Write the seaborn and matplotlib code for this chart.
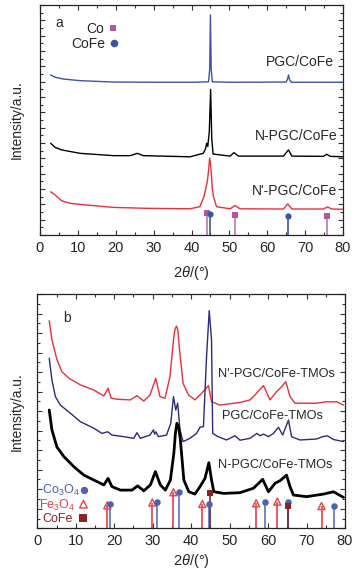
import numpy as np
import matplotlib
matplotlib.use('Agg')
import matplotlib.pyplot as plt
import matplotlib.ticker as mticker
import seaborn as sns

# %% Datos (intensidad en unidades arbitrarias, 0-100)

# Panel a
a_pgc_x = [2.8, 4.0, 6.2, 10.6, 19.4, 32.6, 40.0, 44.5, 44.8, 45.0, 45.2, 45.5, 50.0, 65.0, 65.4, 65.6, 65.9, 66.3, 80.0]
a_pgc_y = [69.6, 68.6, 67.8, 67.1, 66.5, 66.4, 66.4, 66.6, 72.0, 95.7, 72.0, 66.6, 66.4, 66.5, 68.0, 69.6, 67.5, 66.4, 66.4]

a_npgc_x = [2.8, 4.0, 5.7, 10.6, 19.4, 23.8, 25.7, 27.3, 39.6, 43.1, 43.7, 44.0, 44.3, 44.7, 45.05, 45.35, 45.7, 50.2,
            51.2, 52.4, 64.3, 65.6, 66.5, 74.8, 75.7, 76.6, 80.0]
a_npgc_y = [39.9, 38.1, 37.0, 35.5, 34.5, 34.5, 35.5, 34.5, 34.0, 35.5, 37.5, 39.9, 38.5, 45.0, 63.3, 42.0, 35.2, 34.3,
            35.8, 34.3, 34.3, 37.0, 34.3, 34.2, 35.1, 34.2, 34.0]

a_n2pgc_x = [2.8, 4.0, 5.7, 7.9, 10.6, 19.4, 28.2, 39.6, 42.2, 43.3, 44.0, 44.2, 44.5, 44.8, 45.1, 45.5, 45.8, 46.6, 50.2,
             51.5, 52.8, 64.3, 65.4, 66.5, 74.8, 75.9, 77.0, 80.0]
a_n2pgc_y = [18.8, 17.4, 14.9, 13.8, 13.3, 12.0, 11.6, 11.4, 12.3, 16.7, 22.0, 23.5, 28.0, 33.5, 30.0, 20.0, 16.7, 12.3, 11.4,
             12.8, 11.4, 11.3, 13.5, 11.3, 11.3, 12.2, 11.3, 11.2]

# Picos de referencia, panel a
ref_a_co_x = [44.2, 51.5, 75.9]
ref_a_co_y = [9.4, 8.5, 8.3]
ref_a_cofe_x = [45.0, 65.6]
ref_a_cofe_y = [9.2, 8.3]

# Panel b
b_n2pgc_x = [3.1, 3.8, 5.1, 6.4, 8.2, 11.2, 14.7, 17.3, 18.4, 19.2, 20.7, 24.2, 25.9, 27.7, 29.3, 30.8, 31.9, 33.2,
             34.5, 35.4, 35.8, 36.2, 36.55, 36.9, 37.9, 39.3, 41.0, 42.7, 44.5, 45.3, 47.5, 52.7, 55.3, 56.2, 58.8,
             60.5, 62.2, 63.5, 64.6, 65.7, 67.0, 72.6, 75.2, 77.8, 79.6]
b_n2pgc_y = [88.6, 80.5, 72.0, 66.8, 64.1, 61.2, 59.0, 56.5, 59.8, 55.5, 55.1, 54.8, 56.6, 54.3, 56.9, 64.0, 56.2, 55.5,
             64.7, 80.4, 85.0, 86.3, 84.5, 77.5, 61.9, 56.9, 54.8, 57.6, 60.9, 54.0, 52.6, 53.7, 54.8, 56.2, 60.9,
             54.8, 58.3, 60.4, 62.6, 56.2, 53.4, 53.4, 54.0, 54.0, 52.6]

b_pgc_x = [3.1, 3.8, 4.7, 6.0, 8.6, 11.2, 14.7, 16.8, 18.3, 19.4, 22.5, 25.1, 25.9, 26.8, 29.3, 30.2, 30.5, 30.8, 31.5,
           33.6, 34.7, 35.4, 36.0, 36.5, 37.1, 37.9, 39.7, 41.4, 42.3, 43.2, 44.0, 44.7, 45.3, 45.6, 47.0, 49.2,
           51.4, 52.7, 55.3, 57.1, 57.9, 58.8, 60.1, 61.4, 62.7, 63.8, 65.3, 66.1, 68.3, 72.6, 74.0, 75.4, 77.0, 79.6]
b_pgc_y = [72.6, 63.3, 56.2, 52.6, 49.1, 45.5, 42.7, 40.5, 41.2, 39.8, 39.1, 38.4, 40.8, 38.4, 39.8, 42.0, 40.2, 41.2, 39.1,
           39.8, 44.8, 56.2, 50.5, 53.4, 42.0, 37.0, 38.4, 40.5, 43.1, 43.4, 73.2, 92.9, 80.4, 40.5, 39.1, 37.7,
           39.5, 37.6, 38.4, 40.5, 39.5, 40.2, 39.1, 40.5, 43.1, 39.8, 46.2, 39.1, 37.7, 38.1, 39.0, 39.5, 37.9, 37.0]

b_npgc_x = [3.1, 3.8, 5.1, 6.9, 9.5, 12.1, 14.7, 17.3, 18.4, 19.4, 21.6, 24.6, 26.1, 27.7, 29.4, 30.7, 32.0, 33.3, 34.6,
            35.5, 35.9, 36.3, 36.8, 37.2, 38.1, 39.4, 41.0, 42.3, 43.6, 44.6, 45.3, 45.9, 48.4, 52.7, 56.2, 58.6,
            60.1, 61.8, 63.1, 64.8, 65.7, 66.6, 70.0, 74.4, 77.0, 79.6]
b_npgc_y = [50.5, 42.0, 34.7, 30.6, 26.3, 22.7, 20.6, 18.5, 21.3, 17.8, 16.3, 16.3, 18.1, 16.0, 18.5, 24.2, 18.5, 16.3, 20.6,
            32.0, 40.5, 44.8, 42.7, 37.7, 20.6, 15.6, 14.6, 17.8, 21.3, 28.0, 20.6, 15.6, 14.9, 15.2, 17.1, 20.9,
            15.6, 19.2, 20.3, 22.7, 17.8, 14.2, 13.5, 14.6, 15.6, 13.2]

# Picos de referencia, panel b
ref_b_co3o4_x = [19.0, 31.2, 36.8, 44.7, 59.3, 65.1, 77.2]
ref_b_co3o4_y = [10.2, 11.1, 15.4, 10.4, 11.1, 11.4, 9.6]
ref_b_fe3o4_x = [18.2, 29.9, 35.4, 42.9, 56.9, 62.4, 73.9]
ref_b_fe3o4_y = [9.8, 11.0, 15.4, 10.4, 10.7, 11.4, 9.5]
ref_b_cofe_x = [44.9, 65.3]
ref_b_cofe_y = [15.2, 9.6]

# %% Estilo

sns.set_theme(style='ticks')
plt.rcParams['font.family'] = ['Liberation Sans', 'DejaVu Sans']
plt.rcParams['mathtext.fontset'] = 'custom'
plt.rcParams['mathtext.rm'] = 'Liberation Sans'
plt.rcParams['mathtext.it'] = 'Liberation Sans:italic'

AZUL = '#3b55a3'
NEGRO = '#000000'
ROJO = '#e8303a'
MAGENTA = '#b5579f'
NAVY = '#2b2b7c'
AZUL_B = '#4a62b0'
ROJO_B = '#e8404a'
BORDO = '#8b2323'


def formato_ejes(ax, paso_y, pad_x):
    ax.set_xlim(0, 80)
    ax.set_ylim(0, 100)
    ax.xaxis.set_major_locator(mticker.MultipleLocator(10))
    ax.xaxis.set_minor_locator(mticker.MultipleLocator(5))
    ax.yaxis.set_major_locator(mticker.MultipleLocator(paso_y))
    ax.yaxis.set_minor_locator(mticker.MultipleLocator(paso_y / 2))
    ax.tick_params(which='both', direction='in', top=True, right=True, width=0.8, color='#333333')
    ax.tick_params(which='major', length=3.5, labelsize=10.5, pad=4)
    ax.tick_params(which='minor', length=2)
    ax.tick_params(axis='y', labelleft=False)
    for s in ax.spines.values():
        s.set_linewidth(0.9)
        s.set_color('#222222')
    ax.set_xlabel(r'2$\theta$/(°)', fontsize=10.5, labelpad=pad_x)
    ax.set_ylabel('Intensity/a.u.', fontsize=10)


def picos(ax, xs, ys, color_linea, color_marca, marca, tam, relleno=True):
    ax.vlines(xs, 0, ys, colors=color_linea, linewidth=1.2)
    sns.scatterplot(x=xs, y=ys, ax=ax, marker=marca, s=tam,
                    color=color_marca if relleno else 'none',
                    edgecolor=color_marca,
                    linewidth=1.0 if not relleno else 0, zorder=3, legend=False)


fig = plt.figure(figsize=(3.61, 5.72), dpi=100)
ax_a = fig.add_axes([40 / 361, 337 / 572, 303 / 361, 230 / 572])
ax_b = fig.add_axes([37.3 / 361, 43.7 / 572, 307.7 / 361, 234.3 / 572])

# %% Panel a
sns.lineplot(x=a_pgc_x, y=a_pgc_y, ax=ax_a, color=AZUL, linewidth=1.0, estimator=None)
sns.lineplot(x=a_npgc_x, y=a_npgc_y, ax=ax_a, color=NEGRO, linewidth=1.0, estimator=None)
sns.lineplot(x=a_n2pgc_x, y=a_n2pgc_y, ax=ax_a, color=ROJO, linewidth=1.0, estimator=None)

picos(ax_a, ref_a_co_x, ref_a_co_y, '#b77aae', MAGENTA, 's', 16)
picos(ax_a, ref_a_cofe_x, ref_a_cofe_y, AZUL, AZUL, 'o', 20)

formato_ejes(ax_a, 100 / 15, 7)
ax_a.yaxis.set_label_coords(-0.053, 0.5)

ax_a.text(0.05, 0.92, 'a', transform=ax_a.transAxes, fontsize=10, ha='left', va='center')
ax_a.text(0.212, 0.895, 'Co', transform=ax_a.transAxes, fontsize=10, ha='right', va='center')
ax_a.text(0.214, 0.83, 'CoFe', transform=ax_a.transAxes, fontsize=10, ha='right', va='center')
ax_a.scatter([0.24], [0.898], transform=ax_a.transAxes, marker='s', s=24, color=MAGENTA, linewidths=0)
ax_a.scatter([0.244], [0.835], transform=ax_a.transAxes, marker='o', s=30, color=AZUL, linewidths=0)

ax_a.text(0.97, 0.75, 'PGC/CoFe', transform=ax_a.transAxes, fontsize=10, ha='right', va='center')
ax_a.text(0.983, 0.43, 'N-PGC/CoFe', transform=ax_a.transAxes, fontsize=10, ha='right', va='center')
ax_a.text(0.98, 0.193, "N'-PGC/CoFe", transform=ax_a.transAxes, fontsize=10, ha='right', va='center')

# %% Panel b
sns.lineplot(x=b_n2pgc_x, y=b_n2pgc_y, ax=ax_b, color=ROJO, linewidth=1.0, estimator=None)
sns.lineplot(x=b_pgc_x, y=b_pgc_y, ax=ax_b, color=NAVY, linewidth=1.0, estimator=None)
sns.lineplot(x=b_npgc_x, y=b_npgc_y, ax=ax_b, color=NEGRO, linewidth=2.0, estimator=None)

picos(ax_b, ref_b_fe3o4_x, ref_b_fe3o4_y, ROJO_B, ROJO_B, '^', 26, relleno=False)
picos(ax_b, ref_b_co3o4_x, ref_b_co3o4_y, '#5a74bf', AZUL_B, 'o', 22)
picos(ax_b, ref_b_cofe_x, ref_b_cofe_y, '#6e2b2b', BORDO, 's', 20)

formato_ejes(ax_b, 100 / 12, 3)
ax_b.yaxis.set_label_coords(-0.043, 0.5)

ax_b.text(0.095, 0.896, 'b', transform=ax_b.transAxes, fontsize=10, ha='center', va='center')
ax_b.text(0.139, 0.16, r'Co$_3$O$_4$', transform=ax_b.transAxes, fontsize=9, ha='right', va='center', color=AZUL_B)
ax_b.text(0.1225, 0.099, r'Fe$_3$O$_4$', transform=ax_b.transAxes, fontsize=9, ha='right', va='center', color=ROJO_B)
ax_b.text(0.116, 0.04, 'CoFe', transform=ax_b.transAxes, fontsize=9, ha='right', va='center', color=BORDO)
ax_b.scatter([0.153], [0.162], transform=ax_b.transAxes, marker='o', s=28, color=AZUL_B, linewidths=0)
ax_b.scatter([0.15], [0.103], transform=ax_b.transAxes, marker='^', s=30, facecolor='none', edgecolor=ROJO_B, linewidths=1.0)
ax_b.scatter([0.15], [0.046], transform=ax_b.transAxes, marker='s', s=26, color=BORDO, linewidths=0)

ax_b.text(0.588, 0.66, "N'-PGC/CoFe-TMOs", transform=ax_b.transAxes, fontsize=9.2, ha='left', va='center')
ax_b.text(0.60, 0.479, 'PGC/CoFe-TMOs', transform=ax_b.transAxes, fontsize=9.2, ha='left', va='center')
ax_b.text(0.588, 0.27, 'N-PGC/CoFe-TMOs', transform=ax_b.transAxes, fontsize=9.2, ha='left', va='center')

fig.savefig('out.png', dpi=100)
